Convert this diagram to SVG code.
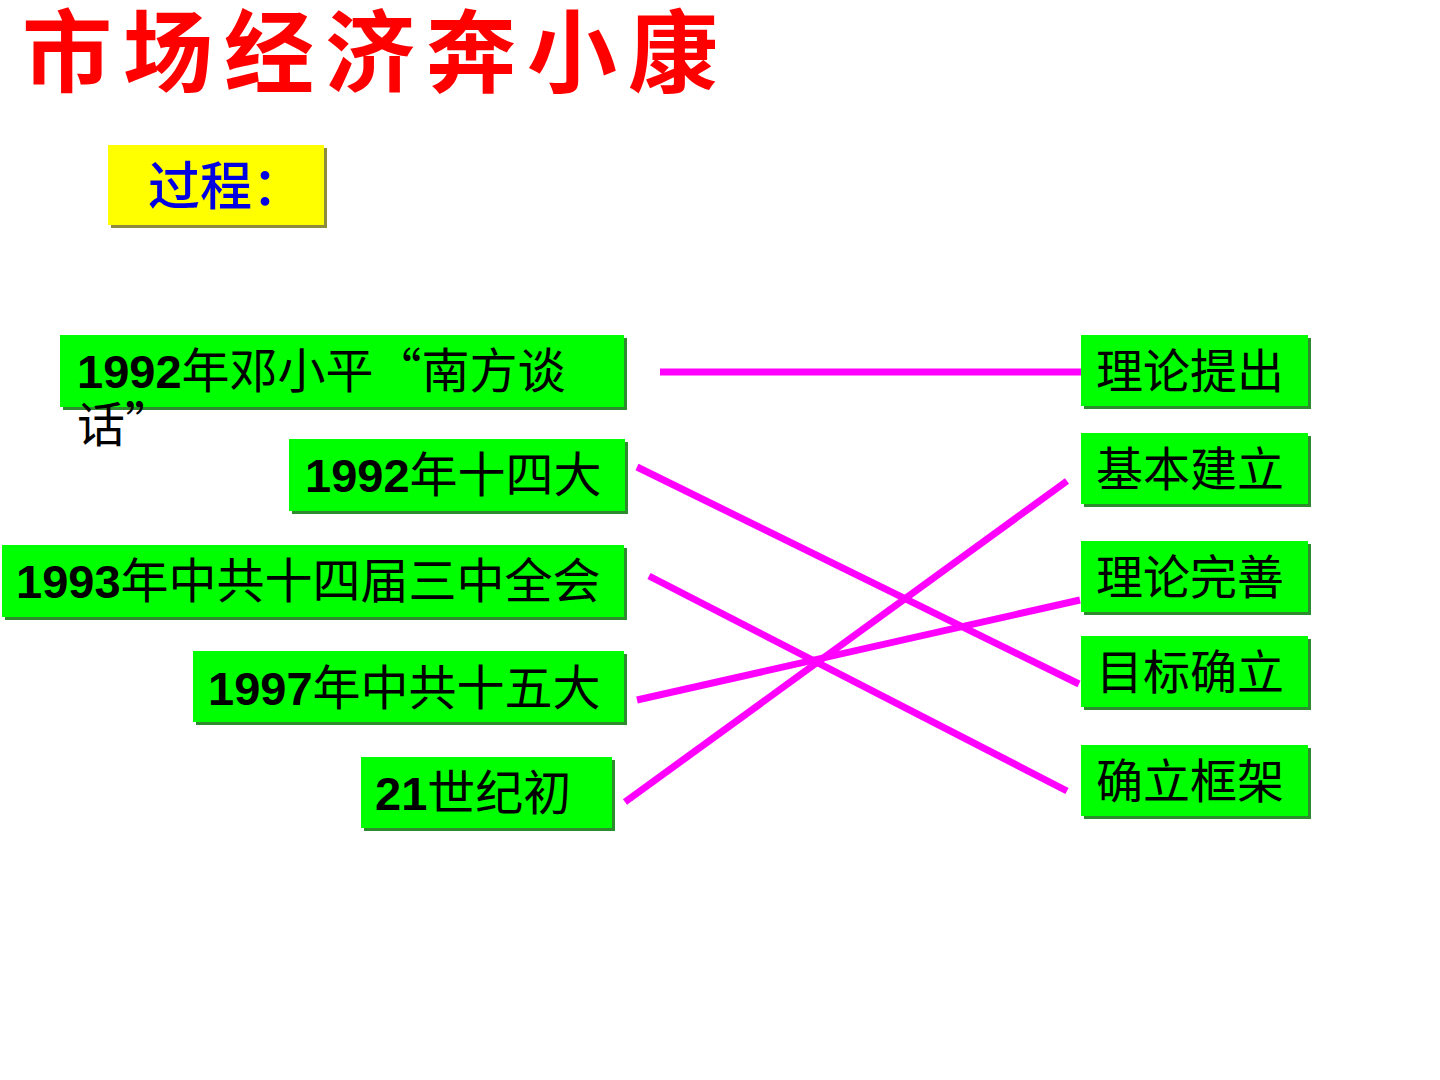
<svg xmlns="http://www.w3.org/2000/svg" width="1440" height="1080" viewBox="0 0 1440 1080">
<style>
.title{font-family:"Liberation Sans","Noto Sans CJK SC",sans-serif;font-weight:700;font-size:90px;fill:#FF0000;letter-spacing:11px}
.sub{font-family:"Liberation Sans","Noto Sans CJK SC",sans-serif;font-size:52px;fill:#0000E0;font-weight:500}
.box{fill:#00FF00}
.ybox{fill:#FFFF00}
.shadow{fill:#2E8B2E}
.yshadow{fill:#8C8C3C}
.t{font-family:"Liberation Sans","Noto Sans CJK SC",sans-serif;font-size:47px;fill:#000}
.lt{font-size:48px}
.num{font-weight:700;font-size:47px}
.q{font-family:"Noto Sans CJK SC",sans-serif}
.conn line{stroke:#FF00FF;stroke-width:7;stroke-linecap:butt}
</style>
<rect width="1440" height="1080" fill="#FFFFFF"/>
<g id="title"><text class="title" x="22" y="85">市场经济奔小康</text></g>
<g id="process">
<rect class="yshadow" x="111" y="148" width="216" height="80"/>
<rect class="ybox" x="108" y="145" width="216" height="80"/>
<text class="sub" x="148" y="205">过程<tspan class="q">：</tspan></text>
</g>
<g id="l1">
<rect class="shadow" x="63" y="338" width="564" height="72"/>
<rect class="box" x="60" y="335" width="564" height="72"/>
<text class="t lt" x="77" y="388"><tspan class="num">1992</tspan>年邓小平<tspan class="q">“</tspan>南方谈<tspan x="77" dy="54">话</tspan><tspan class="q">”</tspan></text>
</g>
<g id="l2">
<rect class="shadow" x="292" y="442" width="336" height="72"/>
<rect class="box" x="289" y="439" width="336" height="72"/>
<text class="t lt" x="305" y="492"><tspan class="num">1992</tspan>年十四大</text>
</g>
<g id="l3">
<rect class="shadow" x="5" y="548" width="622" height="72"/>
<rect class="box" x="2" y="545" width="622" height="72"/>
<text class="t lt" x="16" y="598"><tspan class="num">1993</tspan>年中共十四届三中全会</text>
</g>
<g id="l4">
<rect class="shadow" x="196" y="654" width="431" height="71"/>
<rect class="box" x="193" y="651" width="431" height="71"/>
<text class="t lt" x="208" y="705"><tspan class="num">1997</tspan>年中共十五大</text>
</g>
<g id="l5">
<rect class="shadow" x="364" y="760" width="251" height="71"/>
<rect class="box" x="361" y="757" width="251" height="71"/>
<text class="t lt" x="375" y="810"><tspan class="num">21</tspan>世纪初</text>
</g>
<g id="r1">
<rect class="shadow" x="1084" y="338" width="227" height="71"/>
<rect class="box" x="1081" y="335" width="227" height="71"/>
<text class="t" x="1096" y="388">理论提出</text>
</g>
<g id="r2">
<rect class="shadow" x="1084" y="436" width="227" height="71"/>
<rect class="box" x="1081" y="433" width="227" height="71"/>
<text class="t" x="1096" y="486">基本建立</text>
</g>
<g id="r3">
<rect class="shadow" x="1084" y="544" width="227" height="71"/>
<rect class="box" x="1081" y="541" width="227" height="71"/>
<text class="t" x="1096" y="594">理论完善</text>
</g>
<g id="r4">
<rect class="shadow" x="1084" y="639" width="227" height="71"/>
<rect class="box" x="1081" y="636" width="227" height="71"/>
<text class="t" x="1096" y="689">目标确立</text>
</g>
<g id="r5">
<rect class="shadow" x="1084" y="748" width="227" height="71"/>
<rect class="box" x="1081" y="745" width="227" height="71"/>
<text class="t" x="1096" y="798">确立框架</text>
</g>
<g id="connectors" class="conn">
<line x1="660" y1="372" x2="1081" y2="372"/>
<line x1="637" y1="467" x2="1079" y2="684"/>
<line x1="649" y1="576" x2="1067" y2="791"/>
<line x1="637" y1="700" x2="1080" y2="600"/>
<line x1="625" y1="802" x2="1067" y2="481"/>
</g>
</svg>
